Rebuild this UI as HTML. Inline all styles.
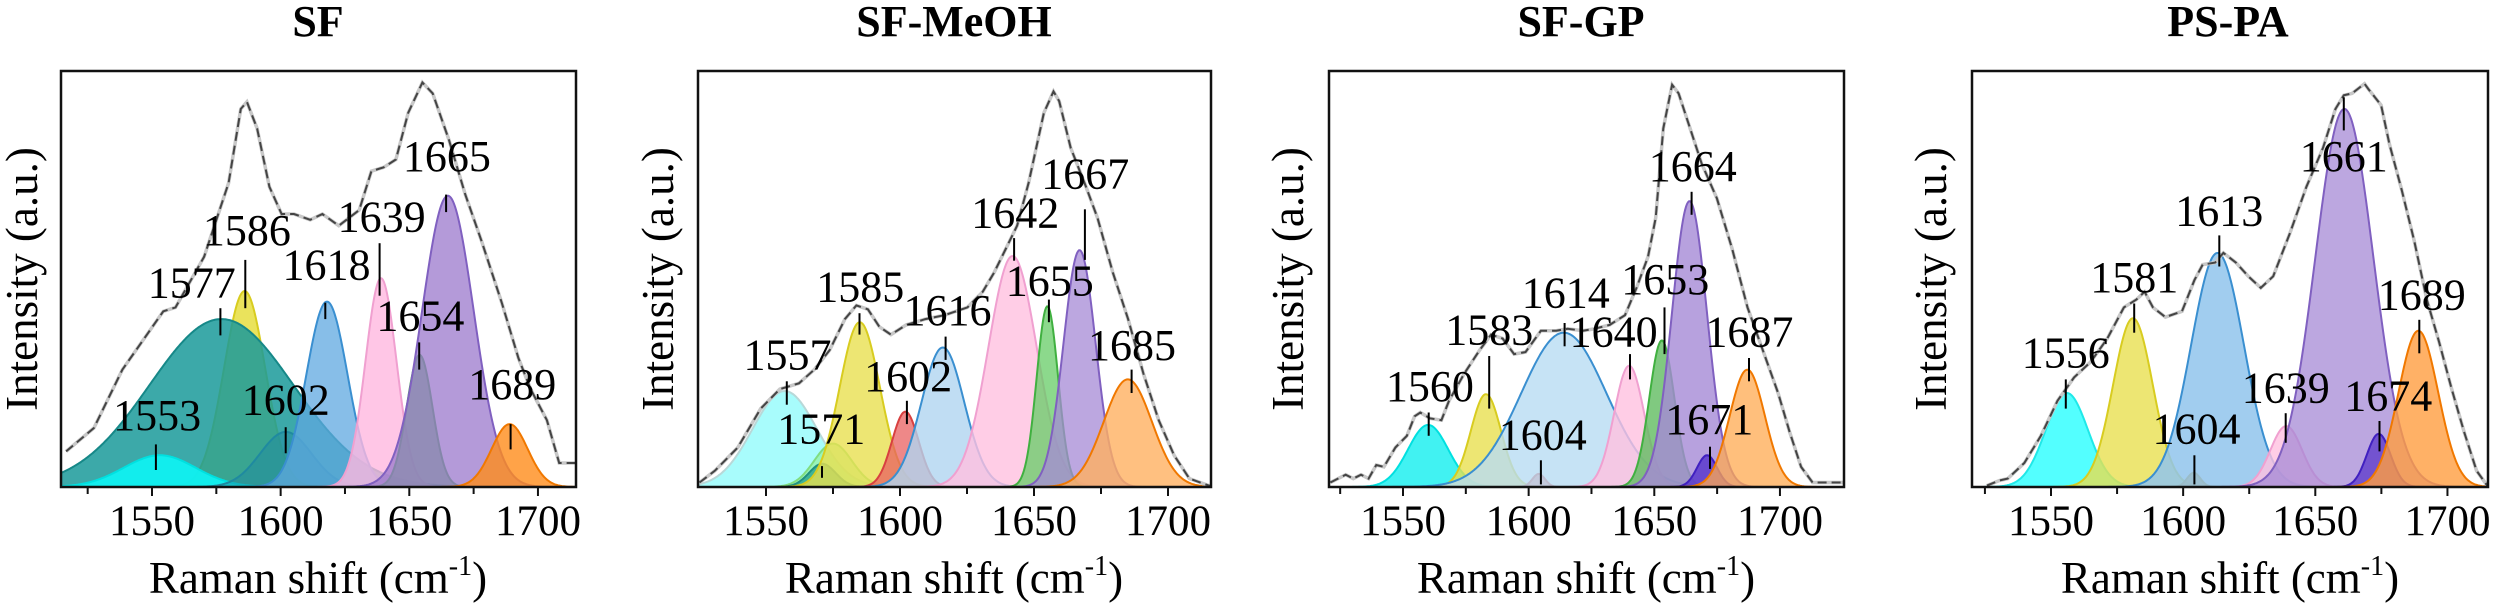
<!DOCTYPE html>
<html><head><meta charset="utf-8"><style>
html,body{margin:0;padding:0;background:#fff}
svg{display:block;font-family:"Liberation Serif","Times New Roman",Tinos,"DejaVu Serif",serif}
svg text{font-family:"Liberation Serif","Times New Roman",Tinos,"DejaVu Serif",serif;fill:#000}
</style></head><body>
<svg id="s" width="2500" height="609" viewBox="0 0 2500 609" xmlns="http://www.w3.org/2000/svg">
<g font-weight="bold" font-size="44" text-anchor="middle">
<text x="318" y="36" font-weight="bold">SF</text>
<text x="954" y="36" font-weight="bold">SF-MeOH</text>
<text x="1581" y="36" font-weight="bold">SF-GP</text>
<text x="2228" y="36" font-weight="bold">PS-PA</text>
</g>
<g font-size="45" text-anchor="middle">
<text transform="translate(37,279) rotate(-90)">Intensity (a.u.)</text>
<text transform="translate(673,279) rotate(-90)">Intensity (a.u.)</text>
<text transform="translate(1303,279) rotate(-90)">Intensity (a.u.)</text>
<text transform="translate(1946,279) rotate(-90)">Intensity (a.u.)</text>
<text x="318" y="593">Raman shift (cm<tspan font-size="28" dy="-18">-1</tspan><tspan dy="18">)</tspan></text>
<text x="954" y="593">Raman shift (cm<tspan font-size="28" dy="-18">-1</tspan><tspan dy="18">)</tspan></text>
<text x="1586" y="593">Raman shift (cm<tspan font-size="28" dy="-18">-1</tspan><tspan dy="18">)</tspan></text>
<text x="2230" y="593">Raman shift (cm<tspan font-size="28" dy="-18">-1</tspan><tspan dy="18">)</tspan></text>
</g>
<g id="plots"></g>
</svg>
<script>
var FF='font-family:"Liberation Serif","Times New Roman",serif';
var VS=2.57, TOP=71, BOT=487;
var P=[
{ox:0,hs:2.45,L:61,R:576,x1550:152,ppu:2.573,
comp:[[1586,748,8,'#e6de40',0.85,'#d8cc20'],[1577,820,28,'#1a9a9a',0.85,'#168888'],[1553,1170,14,'#10f0f0',0.95,'#00e0e0'],[1602,1110,10,'#1f8aa0',0.5,'#1f8aa0'],[1618,775,8,'#5fa8e0',0.75,'#3a8fd0'],[1639,715,6,'#ffb8e0',0.8,'#f0a0d0'],[1654,912,5,'#5cbf5c',0.8,'#40b040'],[1665,503,10,'#9b78cc',0.75,'#8060c0'],[1689,1090,7,'#ff8c1a',0.8,'#f07800']],
sp:[[162,1160],[230,1100],[300,950],[400,800],[430,790],[500,660],[560,470],[590,280],[605,262],[630,330],[660,480],[690,550],[720,550],[760,565],[790,550],[830,580],[880,540],[910,440],[940,430],[970,410],[1000,290],[1035,212],[1060,240],[1100,360],[1140,500],[1180,620],[1230,780],[1270,920],[1300,1000],[1340,1080],[1370,1190],[1410,1190]],
lab:[['1553',385,1105,1142,1208,382],['1577',470,765,792,862,540],['1586',605,630,668,792,601],['1602',700,1065,1098,1165,700],['1618',800,718,778,820,797],['1639',935,595,625,760,930],['1654',1030,850,880,950,1027],['1665',1095,440,500,545,1093],['1689',1255,1025,1090,1155,1251]]},
{ox:600,hs:2.613,L:698,R:1211,x1550:766,ppu:2.68,
comp:[[1557,1005,12,'#9ffcfc',0.9,'#b8d8d8'],[1575,1140,7,'#90ee90',0.6,'#80dd80'],[1571,1192,5,'#30a890',0.85,'#209080'],[1585,828,7.5,'#e8e050',0.8,'#d8cc20'],[1602,1058,5,'#e86060',0.75,'#d84040'],[1616,893,8,'#b0d4f0',0.8,'#3a8fd0'],[1642,658,9,'#ffc0e0',0.8,'#f0a0d0'],[1655,787,4,'#66cc66',0.75,'#40b040'],[1667,643,6,'#a58ad6',0.75,'#8060c0'],[1685,975,9,'#ffb060',0.8,'#f07800']],
sp:[[260,1240],[300,1210],[360,1150],[420,1050],[470,1000],[520,985],[560,950],[600,900],[640,820],[670,785],[700,795],[730,840],[760,860],[800,835],[850,820],[900,810],[960,790],[1000,750],[1030,700],[1060,640],[1090,580],[1120,470],[1160,290],[1185,235],[1200,260],[1230,380],[1270,480],[1300,560],[1340,700],[1380,820],[1420,960],[1460,1080],[1500,1170],[1540,1230],[1597,1250]],
lab:[['1557',490,950,980,1040,488],['1571',578,1140,1198,1228,580],['1585',680,775,805,860,678],['1602',805,1005,1030,1090,802],['1616',908,835,865,925,903],['1642',1085,585,612,670,1082],['1655',1175,760,770,828,1173],['1667',1268,485,538,668,1267],['1685',1390,925,950,1010,1389]]},
{ox:1250,hs:2.613,L:1329,R:1844,x1550:1403,ppu:2.513,
comp:[[1560,1092,8,'#20f0f0',0.85,'#00e0e0'],[1583,1013,6,'#e8e050',0.8,'#d8cc20'],[1604,1218,2.5,'#e86060',0.8,'#d84040'],[1614,855,17,'#b8dcf2',0.8,'#3a8fd0'],[1640,940,6,'#ffc0e0',0.8,'#f0a0d0'],[1653,875,5,'#60bb60',0.8,'#40b040'],[1664,517,7,'#a58ad6',0.8,'#8060c0'],[1671,1170,4,'#5533cc',0.8,'#4020c0'],[1687,950,7,'#ffaa50',0.75,'#f07800']],
sp:[[210,1240],[250,1220],[270,1230],[290,1220],[310,1230],[330,1195],[350,1200],[380,1150],[410,1120],[430,1070],[445,1060],[470,1075],[500,1080],[520,1030],[560,960],[600,900],[630,860],[660,870],[690,910],[720,905],[760,850],[800,850],[830,845],[870,850],[900,845],[940,835],[980,810],[1010,740],[1040,660],[1060,560],[1080,330],[1103,218],[1120,240],[1150,330],[1180,420],[1220,510],[1260,640],[1300,790],[1340,900],[1380,1010],[1410,1110],[1440,1200],[1470,1240],[1500,1240],[1552,1240]],
lab:[['1560',470,1030,1060,1120,467],['1583',625,885,915,1050,625],['1604',765,1155,1183,1245,760],['1614',825,790,830,890,822],['1640',950,890,910,975,993],['1653',1085,755,790,910,1083],['1664',1157,465,493,552,1154],['1671',1200,1115,1148,1205,1202],['1687',1305,890,920,980,1304]]},
{ox:1850,hs:2.41,L:1972,R:2488,x1550:2051,ppu:2.643,
comp:[[1556,1010,8,'#40ffff',0.9,'#20e8e8'],[1581,818,7.5,'#e8e050',0.8,'#d8cc20'],[1604,1215,2.5,'#e0a020',0.9,'#d09000'],[1613,650,10,'#90c4ec',0.85,'#3a8fd0'],[1639,1095,6,'#ffc0e0',0.8,'#f0a0d0'],[1661,280,11,'#a58ad6',0.75,'#8060c0'],[1674,1115,4.5,'#6644cc',0.85,'#4020c0'],[1689,850,7.5,'#ff9e40',0.8,'#f07800']],
sp:[[330,1248],[360,1235],[380,1230],[420,1190],[460,1120],[500,1030],[540,970],[580,930],[620,870],[660,790],[690,770],[710,750],[730,790],[760,815],[800,800],[830,720],[850,680],[880,675],[900,650],[930,675],[960,710],[990,740],[1020,710],[1060,600],[1100,480],[1140,380],[1170,280],[1190,245],[1210,240],[1240,215],[1250,230],[1280,270],[1300,370],[1330,490],[1360,620],[1390,770],[1420,880],[1450,1000],[1480,1110],[1510,1210],[1537,1250]],
lab:[['1556',520,945,975,1050,520],['1581',685,750,780,855,685],['1604',835,1140,1170,1245,830],['1613',890,580,605,685,890],['1639',1050,1035,1062,1138,1050],['1661',1190,440,250,335,1190],['1674',1297,1055,1082,1160,1276],['1689',1378,795,822,908,1372]]}
];
var NS='http://www.w3.org/2000/svg',G=document.getElementById('plots');
function el(t,a,p){var e=document.createElementNS(NS,t);for(var k in a)e.setAttribute(k,a[k]);(p||G).appendChild(e);return e;}
P.forEach(function(p,i){
 var X=function(v){return p.x1550+(v-1550)*p.ppu;};
 var V=function(x){return 1550+(x-p.x1550)/p.ppu;};
 var cp=el('clipPath',{id:'c'+i});el('rect',{x:p.L,y:TOP,width:p.R-p.L,height:BOT-TOP},cp);
 var g=el('g',{'clip-path':'url(#c'+i+')'});
 p.comp.forEach(function(c){
  var h=BOT-c[1]/VS,d='M'+p.L+','+BOT;
  for(var x=p.L;x<=p.R;x+=1){var v=V(x);d+=' L'+x+','+(BOT-h*Math.exp(-(v-c[0])*(v-c[0])/(2*c[2]*c[2]))).toFixed(1);}
  d+=' L'+p.R+','+BOT+' Z';
  el('path',{d:d,fill:c[3],'fill-opacity':c[4],stroke:c[5],'stroke-width':2},g);
 });
 var pts=p.sp.map(function(q){return (p.ox+q[0]/p.hs).toFixed(1)+','+(q[1]/VS).toFixed(1);}).join(' ');
 el('polyline',{points:pts,fill:'none',stroke:'#c8c8c8','stroke-width':3.5},g);
 el('polyline',{points:pts,fill:'none',stroke:'#444','stroke-width':2,'stroke-dasharray':'9 5'},g);
 p.lab.forEach(function(l){
  var t=el('text',{x:(p.ox+l[1]/p.hs).toFixed(1),y:(l[2]/VS).toFixed(1),'font-size':44,'text-anchor':'middle',style:FF});t.textContent=l[0];
  var lx=(p.ox+l[5]/p.hs).toFixed(1);
  el('line',{x1:lx,x2:lx,y1:(l[3]/VS).toFixed(1),y2:(l[4]/VS).toFixed(1),stroke:'#000','stroke-width':2});
 });
 el('rect',{x:p.L,y:TOP,width:p.R-p.L,height:BOT-TOP,fill:'none',stroke:'#111','stroke-width':2.5});
 for(var v=1500;v<=1750;v+=25){var x=X(v);if(x<p.L+2||x>p.R-2)continue;
  el('line',{x1:x,x2:x,y1:BOT,y2:BOT+(v%50?7:9),stroke:'#111','stroke-width':2});
  if(v%50==0){var t=el('text',{x:x,y:535,'font-size':43,'text-anchor':'middle',style:FF});t.textContent=v;}
 }
});
</script>
</body></html>
